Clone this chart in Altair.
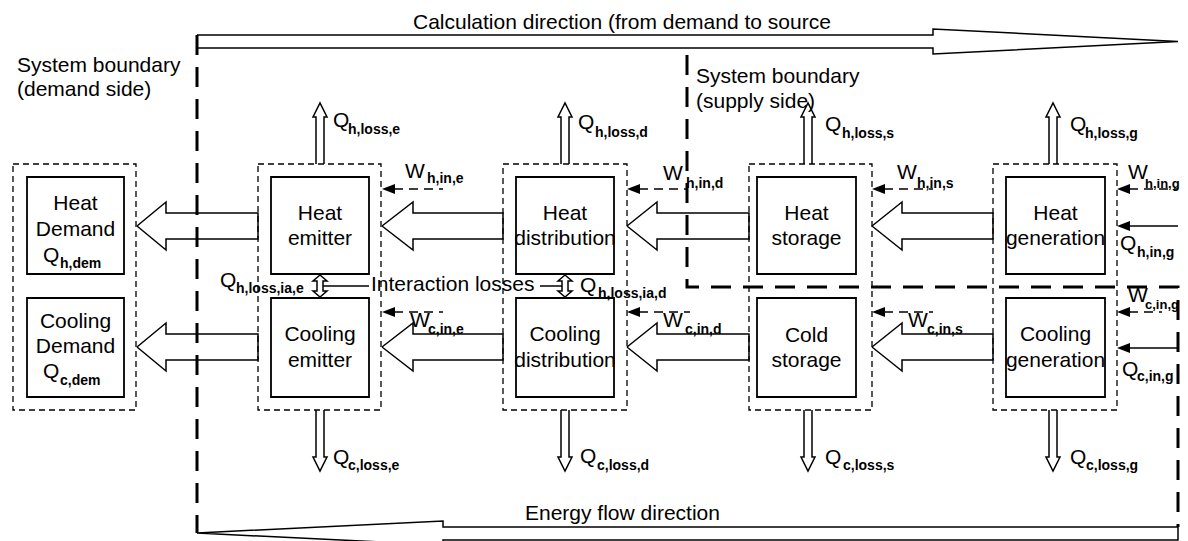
import altair as alt
import pandas as pd

FONT = "Liberation Sans"

# ---------------- text content ----------------
title_top = "Calculation direction (from demand to source"
title_bottom = "Energy flow direction"
boundary_demand = ["System boundary", "(demand side)"]
boundary_supply = ["System boundary", "(supply side)"]
interaction_text = "Interaction losses"

heat_box_words = [["Heat", "Demand"], ["Heat", "emitter"], ["Heat", "distribution"],
                  ["Heat", "storage"], ["Heat", "generation"]]
cool_box_words = [["Cooling", "Demand"], ["Cooling", "emitter"], ["Cooling", "distribution"],
                  ["Cold", "storage"], ["Cooling", "generation"]]

heat_loss_subs = ["h,loss,e", "h,loss,d", "h,loss,s", "h,loss,g"]
cool_loss_subs = ["c,loss,e", "c,loss,d", "c,loss,s", "c,loss,g"]
heat_w_subs = ["h,in,e", "h,in,d", "h,in,s", "h,in,g"]
cool_w_subs = ["c,in,e", "c,in,d", "c,in,s", "c,in,g"]
ia_subs = ["h,loss,ia,e", "h,loss,ia,d"]
dem_subs = ["h,dem", "c,dem"]
input_subs = ["h,in,g", "c,in,g"]

# ---------------- geometry (figure pixel coordinates) ----------------
outer_x1 = [13, 258, 503, 749, 993]
outer_x2 = [136, 381, 627, 872, 1117]
outer_y = [164, 410]
inner_x1 = [27, 271, 516, 757, 1006]
inner_x2 = [124, 369, 614, 856, 1105]
heat_row_y = [177, 274]
cool_row_y = [298, 397]

heat_b1 = [210, 220, 220, 220, 220]
heat_b2 = [236, 245, 245, 245, 245]
cool_b1 = [328, 341, 341, 342, 341]
cool_b2 = [353, 367, 367, 367, 367]

big_tip_x = [137, 382, 627, 872]
big_neck_x = [166, 413, 657, 902]
big_tail_x = [258, 503, 749, 993]
big_row_cy = [226, 347]

loss_x = [320, 565, 808, 1053]
up_q_x = [333, 578, 825, 1070]
up_sub_x = [348, 595, 842, 1085]
up_q_b = [127, 129, 131, 131]
up_sub_b = [134, 137, 138, 138]
dn_q_x = [333, 580, 825, 1070]
dn_sub_x = [348, 597, 843, 1086]
dn_q_b = [464, 463, 464, 464]
dn_sub_b = [470, 470, 470, 470]

w_tip_x = [382, 627, 872, 1117]
w_heat_end = [443, 687, 933, 1178]
w_cool_end = [443, 690, 933, 1162]
w_heat_y = 189
w_cool_y = 312
wh_x = [405, 663, 897, 1128]
wh_sub_x = [427, 686, 917, 1145]
wh_sub_size = [14, 14, 14, 13]
wh_b = [178, 180, 179, 179]
wh_sub_b = [183, 188, 188, 188]
wc_x = [410, 663, 908, 1128]
wc_sub_x = [428, 685, 927, 1145]
wc_sub_size = [14, 14, 14, 13]
wc_b = [327, 327, 327, 302]
wc_sub_b = [334, 334, 334, 309]

in_y = [226, 348]
in_q_x = [1120, 1122]
in_sub_x = [1137, 1137]
in_q_b = [250, 376]
in_sub_b = [257, 381]

ia_x = [320, 565]
ia_q_x = [220, 580]
ia_sub_x = [236, 598]
ia_q_b = [287, 292]
ia_sub_b = [293, 298]

dem_q_x = [43, 43]
dem_sub_x = [60, 60]
dem_q_b = [262, 378]
dem_sub_b = [268, 385]

# ---------------- build tables ----------------
outer = pd.DataFrame({"x": outer_x1, "x2": outer_x2,
                      "y": [outer_y[0]] * 5, "y2": [outer_y[1]] * 5})
inner = pd.DataFrame({"x": inner_x1 * 2, "x2": inner_x2 * 2,
                      "y": [heat_row_y[0]] * 5 + [cool_row_y[0]] * 5,
                      "y2": [heat_row_y[1]] * 5 + [cool_row_y[1]] * 5})

solid_rows = []
def poly(rows, pid, pts):
    for k, (px, py) in enumerate(pts):
        rows.append({"id": pid, "o": k, "x": px, "y": py})

# big hollow flow arrows
for r, cy in enumerate(big_row_cy):
    for i in range(4):
        t, n, e = big_tip_x[i], big_neck_x[i], big_tail_x[i]
        poly(solid_rows, f"big{r}{i}", [(t, cy), (n, cy - 24), (n, cy - 13), (e, cy - 13),
                                        (e, cy + 13), (n, cy + 13), (n, cy + 24), (t, cy)])
# loss arrows up / down
for i, cx in enumerate(loss_x):
    poly(solid_rows, f"up{i}", [(cx - 4, 164), (cx - 4, 117), (cx - 7, 117), (cx, 103),
                                (cx + 7, 117), (cx + 4, 117), (cx + 4, 164)])
    poly(solid_rows, f"dn{i}", [(cx - 4, 410), (cx - 4, 457), (cx - 7, 457), (cx, 471),
                                (cx + 7, 457), (cx + 4, 457), (cx + 4, 410)])
# interaction double arrows
for i, cx in enumerate(ia_x):
    poly(solid_rows, f"ia{i}", [(cx, 275), (cx + 7, 281), (cx + 3, 281), (cx + 3, 291),
                                (cx + 7, 291), (cx, 297), (cx - 7, 291), (cx - 3, 291),
                                (cx - 3, 281), (cx - 7, 281), (cx, 275)])
poly(solid_rows, "ial1", [(323, 286), (369, 286)])
poly(solid_rows, "ial2", [(540, 286), (562, 286)])
# top and bottom direction arrows
poly(solid_rows, "top", [(197, 35), (933, 35), (933, 29), (1178, 41.5), (933, 54),
                         (933, 48), (197, 48), (197, 35)])
poly(solid_rows, "bot", [(197, 533), (443, 521), (443, 527), (1178, 527), (1178, 540),
                         (443, 540), (443, 545), (197, 533)])
# solid input lines
for k, yy in enumerate(in_y):
    poly(solid_rows, f"in{k}", [(1130, yy), (1178, yy)])
solid = pd.DataFrame(solid_rows)

dash_rows = []
for i in range(4):
    poly(dash_rows, f"wh{i}", [(w_tip_x[i] + 12, w_heat_y), (w_heat_end[i], w_heat_y)])
    poly(dash_rows, f"wc{i}", [(w_tip_x[i] + 12, w_cool_y), (w_cool_end[i], w_cool_y)])
dash = pd.DataFrame(dash_rows)

bnd_rows = []
poly(bnd_rows, "demand", [(197, 35), (197, 533)])
poly(bnd_rows, "supply", [(687, 55), (687, 287), (1178, 287), (1178, 527)])
bnd = pd.DataFrame(bnd_rows)

tri_rows = []
def tri(pid, tx, ty):
    tri_rows.append({"id": pid, "x": tx, "y": ty, "y2": ty})
    tri_rows.append({"id": pid, "x": tx + 13, "y": ty - 5, "y2": ty + 5})
for i in range(4):
    tri(f"th{i}", w_tip_x[i], w_heat_y)
    tri(f"tc{i}", w_tip_x[i], w_cool_y)
for k, yy in enumerate(in_y):
    tri(f"ti{k}", 1117, yy)
tris = pd.DataFrame(tri_rows)

# texts
center_rows = []
for i in range(5):
    cx = (inner_x1[i] + inner_x2[i]) / 2
    center_rows += [{"x": cx, "y": heat_b1[i], "t": heat_box_words[i][0]},
                    {"x": cx, "y": heat_b2[i], "t": heat_box_words[i][1]},
                    {"x": cx, "y": cool_b1[i], "t": cool_box_words[i][0]},
                    {"x": cx, "y": cool_b2[i], "t": cool_box_words[i][1]}]
center_t = pd.DataFrame(center_rows)

big_rows = [{"x": 413, "y": 29, "t": title_top},
            {"x": 525, "y": 520, "t": title_bottom},
            {"x": 17, "y": 72, "t": boundary_demand[0]},
            {"x": 17, "y": 96, "t": boundary_demand[1]},
            {"x": 696, "y": 83, "t": boundary_supply[0]},
            {"x": 696, "y": 108, "t": boundary_supply[1]},
            {"x": 371, "y": 291, "t": interaction_text}]
sub_rows = []
def label(letter, qx, qb, sub, sx, sb, ss=14):
    big_rows.append({"x": qx, "y": qb, "t": letter})
    sub_rows.append({"x": sx, "y": sb, "t": sub, "s": ss})
for i in range(4):
    label("Q", up_q_x[i], up_q_b[i], heat_loss_subs[i], up_sub_x[i], up_sub_b[i])
    label("Q", dn_q_x[i], dn_q_b[i], cool_loss_subs[i], dn_sub_x[i], dn_sub_b[i])
    label("W", wh_x[i], wh_b[i], heat_w_subs[i], wh_sub_x[i], wh_sub_b[i], wh_sub_size[i])
    label("W", wc_x[i], wc_b[i], cool_w_subs[i], wc_sub_x[i], wc_sub_b[i], wc_sub_size[i])
for k in range(2):
    label("Q", in_q_x[k], in_q_b[k], input_subs[k], in_sub_x[k], in_sub_b[k])
    label("Q", ia_q_x[k], ia_q_b[k], ia_subs[k], ia_sub_x[k], ia_sub_b[k])
    label("Q", dem_q_x[k], dem_q_b[k], dem_subs[k], dem_sub_x[k], dem_sub_b[k])
big_t = pd.DataFrame(big_rows)
sub_t = pd.DataFrame(sub_rows)

# ---------------- chart ----------------
X = alt.X("x:Q", scale=alt.Scale(domain=[8, 1180], nice=False, zero=False), axis=None)
Y = alt.Y("y:Q", scale=alt.Scale(domain=[8, 541], nice=False, zero=False, reverse=True), axis=None)

outer_l = alt.Chart(outer).mark_rect(fill=None, stroke="black", strokeWidth=1.3,
                                     strokeDash=[6, 4]).encode(x=X, x2="x2:Q", y=Y, y2="y2:Q")
inner_l = alt.Chart(inner).mark_rect(fill=None, stroke="black", strokeWidth=1.8).encode(
    x=X, x2="x2:Q", y=Y, y2="y2:Q")
solid_l = alt.Chart(solid).mark_line(color="black", strokeWidth=1.5).encode(
    x=X, y=Y, detail="id:N", order="o:Q")
dash_l = alt.Chart(dash).mark_line(color="black", strokeWidth=1.5, strokeDash=[9, 6]).encode(
    x=X, y=Y, detail="id:N", order="o:Q")
bnd_l = alt.Chart(bnd).mark_line(color="black", strokeWidth=3, strokeDash=[20, 12]).encode(
    x=X, y=Y, detail="id:N", order="o:Q")
tri_l = alt.Chart(tris).mark_area(color="black", opacity=1).encode(
    x=X, y=Y, y2="y2:Q", detail="id:N")
center_l = alt.Chart(center_t).mark_text(font=FONT, fontSize=21, align="center",
                                         baseline="alphabetic", color="black").encode(
    x=X, y=Y, text="t:N")
big_l = alt.Chart(big_t).mark_text(font=FONT, fontSize=21, align="left",
                                   baseline="alphabetic", color="black").encode(
    x=X, y=Y, text="t:N")
sub_l = alt.Chart(sub_t).mark_text(font=FONT, fontWeight="bold", align="left",
                                   baseline="alphabetic", color="black").encode(
    x=X, y=Y, text="t:N", size=alt.Size("s:Q", scale=None))

chart = alt.layer(outer_l, inner_l, solid_l, dash_l, bnd_l, tri_l, center_l, big_l, sub_l).properties(
    width=1172, height=533, padding=0,
    autosize=alt.AutoSizeParams(type="none"),
    background="white",
).configure_view(stroke=None)

chart.save("out.html", embed_options={"renderer": "svg", "actions": False})
